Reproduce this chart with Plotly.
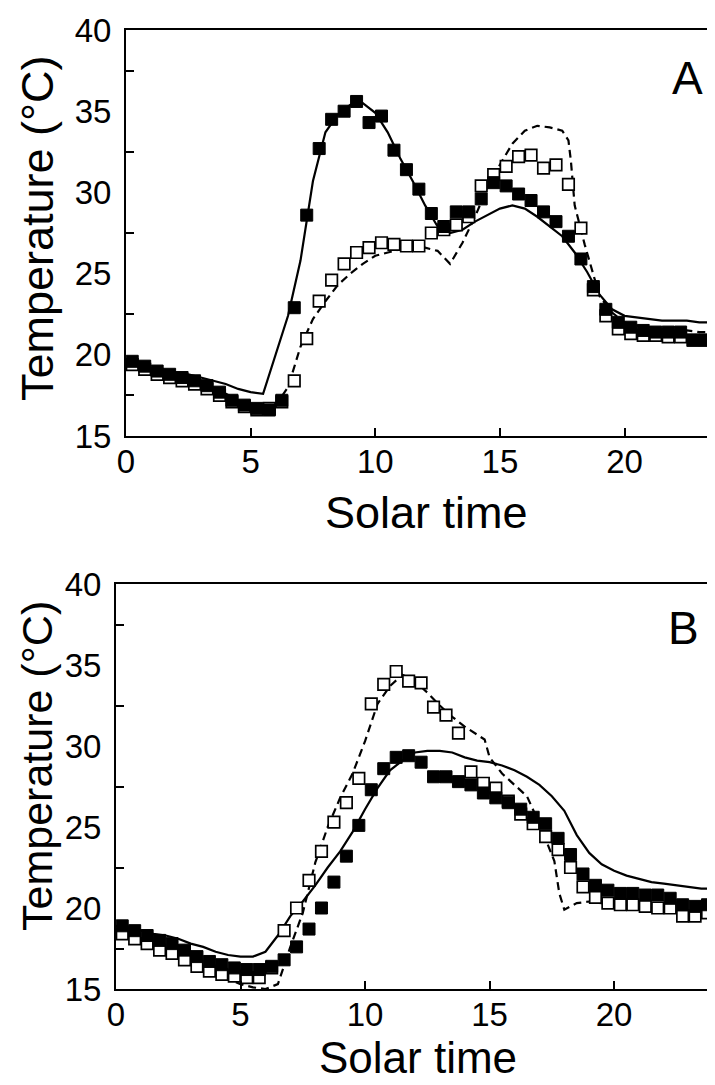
import plotly.graph_objects as go

# ---------------- data ----------------
hours = [0.25, 0.75, 1.25, 1.75, 2.25, 2.75, 3.25, 3.75, 4.25, 4.75, 5.25, 5.75,
         6.25, 6.75, 7.25, 7.75, 8.25, 8.75, 9.25, 9.75, 10.25, 10.75, 11.25, 11.75,
         12.25, 12.75, 13.25, 13.75, 14.25, 14.75, 15.25, 15.75, 16.25, 16.75, 17.25, 17.75,
         18.25, 18.75, 19.25, 19.75, 20.25, 20.75, 21.25, 21.75, 22.25, 22.75, 23.25, 23.75]

# Panel A
a_filled = [19.6, 19.3, 19.0, 18.8, 18.6, 18.4, 18.1, 17.7, 17.2, 16.9, 16.7, 16.6,
            17.2, 22.9, 28.6, 32.7, 34.5, 35.0, 35.6, 34.3, 34.7, 32.6, 31.4, 30.2,
            28.7, 27.9, 28.8, 28.8, 29.6, 30.6, 30.4, 29.9, 29.5, 28.8, 28.2, 27.3,
            25.9, 24.2, 22.8, 22.0, 21.7, 21.5, 21.4, 21.4, 21.4, 20.9, 20.9, 21.1]
a_open = [19.4, 19.1, 18.8, 18.6, 18.4, 18.2, 17.9, 17.5, 17.1, 16.8, 16.6, 16.7,
          17.1, 18.4, 21.0, 23.3, 24.6, 25.6, 26.3, 26.6, 26.9, 26.8, 26.7, 26.7,
          27.5, 27.7, 28.0, 28.5, 30.4, 31.1, 31.6, 32.2, 32.3, 31.5, 31.7, 30.5,
          27.8, 24.0, 22.4, 21.6, 21.3, 21.2, 21.2, 21.1, 21.1, 20.9, 20.9, 21.0]

a_solid_x = [0, 0.5, 1, 1.5, 2, 2.5, 3, 3.5, 4, 4.5, 5, 5.5, 6, 6.5, 7, 7.5, 8, 8.5, 9, 9.5,
             10, 10.5, 11, 11.5, 12, 12.5, 13, 13.5, 14, 14.5, 15, 15.5, 16, 16.5, 17, 17.5,
             18, 18.5, 19, 19.5, 20, 20.5, 21, 21.5, 22, 22.5, 23, 23.5, 23.75]
a_solid_y = [19.6, 19.4, 19.2, 19.0, 18.9, 18.8, 18.6, 18.4, 18.2, 17.9, 17.7, 17.6, 20.0, 22.4,
             25.8, 30.7, 33.7, 34.8, 35.4, 35.5, 34.9, 33.7, 32.1, 30.7, 29.2, 27.9, 27.5, 27.7,
             28.2, 28.6, 29.0, 29.2, 29.0, 28.5, 27.9, 27.3, 26.3, 25.1, 23.7, 22.8, 22.4, 22.3,
             22.2, 22.1, 22.1, 22.1, 22.0, 22.0, 22.0]

a_dash_x = [0, 0.5, 1, 1.5, 2, 2.5, 3, 3.5, 4, 4.5, 5, 5.5, 6, 6.5, 7, 7.5, 8, 8.5, 9, 9.5,
            10, 10.5, 11, 11.5, 12, 12.5, 13, 13.5, 14, 14.5, 15, 15.5, 16, 16.5, 17, 17.5,
            17.75, 17.85, 18, 18.4, 18.7, 19, 19.5, 20, 20.5, 21, 21.5, 22, 22.5, 23, 23.5, 23.75]
a_dash_y = [19.4, 19.2, 19.0, 18.8, 18.7, 18.5, 18.3, 18.0, 17.6, 17.2, 16.9, 16.7, 16.9, 18.0,
            20.5, 22.2, 23.3, 24.3, 25.0, 25.6, 26.1, 26.3, 26.5, 26.6, 26.6, 26.4, 25.6, 26.9,
            28.5, 30.3, 31.7, 33.0, 33.8, 34.1, 34.0, 33.8, 33.2, 31.9, 29.2, 26.8, 25.2, 23.6,
            22.6, 22.0, 21.8, 21.7, 21.6, 21.5, 21.5, 21.4, 21.4, 21.4]

# Panel B
b_filled = [18.9, 18.6, 18.3, 18.0, 17.8, 17.4, 17.0, 16.7, 16.5, 16.3, 16.2, 16.2,
            16.4, 16.8, 17.6, 18.7, 20.0, 21.6, 23.2, 25.1, 27.3, 28.6, 29.3, 29.4,
            29.0, 28.1, 28.1, 27.8, 27.6, 27.1, 26.8, 26.5, 26.1, 25.6, 25.2, 24.3,
            23.3, 22.1, 21.4, 21.1, 20.9, 20.9, 20.8, 20.8, 20.6, 20.2, 20.1, 20.2]
b_open = [18.4, 18.1, 17.8, 17.4, 17.2, 16.8, 16.4, 16.1, 15.9, 15.8, 15.7, 15.7,
          16.3, 18.6, 20.0, 21.7, 23.5, 25.3, 26.5, 28.0, 32.6, 33.8, 34.6, 34.0,
          33.9, 32.4, 31.9, 30.8, 28.4, 27.7, 27.4, 26.6, 25.8, 25.2, 24.4, 23.6,
          22.5, 21.3, 20.65, 20.3, 20.2, 20.2, 20.1, 20.0, 20.0, 19.5, 19.5, 19.7]

b_solid_x = [0, 0.5, 1, 1.5, 2, 2.5, 3, 3.5, 4, 4.5, 5, 5.5, 6, 6.5, 7, 7.5, 8, 8.5, 9, 9.5,
             10, 10.5, 11, 11.5, 12, 12.5, 13, 13.5, 14, 14.5, 15, 15.5, 16, 16.5, 17, 17.5,
             18, 18.5, 19, 19.5, 20, 20.5, 21, 21.5, 22, 22.5, 23, 23.5, 23.75]
b_solid_y = [18.9, 18.8, 18.6, 18.4, 18.3, 18.1, 17.8, 17.6, 17.3, 17.1, 17.0, 17.0, 17.3, 18.3,
             19.5, 20.4, 21.4, 22.5, 23.5, 24.7, 26.1, 27.4, 28.5, 29.1, 29.6, 29.7, 29.7, 29.6,
             29.3, 29.1, 29.0, 28.8, 28.5, 28.1, 27.6, 26.9, 26.0, 24.5, 23.4, 22.7, 22.3, 22.0,
             21.8, 21.6, 21.5, 21.4, 21.3, 21.2, 21.2]

b_dash_x = [0, 0.5, 1, 1.5, 2, 2.5, 3, 3.5, 4, 4.5, 5, 5.5, 6, 6.5, 7, 7.5, 8, 8.5, 9, 9.5,
            10, 10.5, 11, 11.5, 12, 12.5, 13, 13.5, 14, 14.5, 14.8, 15, 15.5, 16, 16.5, 17,
            17.35, 17.6, 17.8, 18, 18.5, 19, 19.5, 20, 20.5, 21, 21.5, 22, 22.5, 23, 23.5, 23.75]
b_dash_y = [18.5, 18.2, 17.9, 17.6, 17.3, 17.0, 16.6, 16.2, 15.9, 15.6, 15.3, 15.1, 15.0, 15.3,
            17.6, 19.7, 22.8, 25.0, 26.8, 28.3, 30.3, 32.6, 33.7, 34.4, 34.0, 33.3, 32.5, 31.8,
            31.2, 30.7, 30.4, 29.3, 28.3, 27.6, 26.9, 25.2, 23.8, 22.9, 20.9, 19.9, 20.3, 20.4,
            20.3, 20.2, 20.2, 20.1, 20.0, 19.9, 19.8, 19.7, 19.7, 19.7]

x_ticks = [0, 5, 10, 15, 20]
y_ticks = [15, 20, 25, 30, 35, 40]
x_title = "Solar time"
y_title = "Temperature (°C)"
panel_labels = ["A", "B"]

# ---------------- figure ----------------
W, H = 715, 1085
FONT = "Liberation Sans, Arial, Helvetica, sans-serif"

fig = go.Figure()

def add_panel(xa, ya, sx, sy, dx, dy, opn, fil):
    fig.add_trace(go.Scatter(x=sx, y=sy, mode="lines", xaxis=xa, yaxis=ya,
                             line=dict(color="black", width=2.2), showlegend=False))
    fig.add_trace(go.Scatter(x=dx, y=dy, mode="lines", xaxis=xa, yaxis=ya,
                             line=dict(color="black", width=2.2, dash="8px,5px"), showlegend=False))
    fig.add_trace(go.Scatter(x=hours, y=opn, mode="markers", xaxis=xa, yaxis=ya,
                             marker=dict(symbol="square", size=11.5, color="white",
                                         line=dict(color="black", width=1.7)),
                             showlegend=False))
    fig.add_trace(go.Scatter(x=hours, y=fil, mode="markers", xaxis=xa, yaxis=ya,
                             marker=dict(symbol="square", size=12, color="black",
                                         line=dict(color="black", width=1)),
                             showlegend=False))

add_panel("x", "y", a_solid_x, a_solid_y, a_dash_x, a_dash_y, a_open, a_filled)
add_panel("x2", "y2", b_solid_x, b_solid_y, b_dash_x, b_dash_y, b_open, b_filled)

tickfont = dict(family=FONT, size=33, color="black")

def xaxis(domain, rng, anchor):
    return dict(domain=domain, range=rng, anchor=anchor, tickvals=x_ticks,
                ticks="inside", ticklen=8, tickwidth=2, tickcolor="black",
                showline=True, linecolor="black", linewidth=2, mirror=True,
                showgrid=False, zeroline=False, tickfont=tickfont,
                ticklabelstandoff=-5, automargin=False)

def yaxis(domain, anchor, mirror):
    return dict(domain=domain, range=[15, 40], anchor=anchor, tickvals=y_ticks,
                ticks="", showline=True, linecolor="black", linewidth=2, mirror=mirror,
                showgrid=False, zeroline=False, tickfont=tickfont,
                ticklabelstandoff=6, automargin=False,
                minor=dict(tick0=2.5, dtick=5, ticks="inside", ticklen=8,
                           tickwidth=2, tickcolor="black", showgrid=False))

fig.update_layout(
    width=W, height=H,
    margin=dict(l=0, r=0, t=0, b=0),
    paper_bgcolor="white", plot_bgcolor="white",
    font=dict(family=FONT, color="black"),
    xaxis=xaxis([118 / W, 1.0], [0, 23.95], "y"),
    yaxis=yaxis([1 - 428 / H, 1 - 22 / H], "x", False),
    xaxis2=xaxis([108 / W, 707 / W], [0, 24.05], "y2"),
    yaxis2=yaxis([1 - 981 / H, 1 - 576 / H], "x2", True),
)

ann = []
for (yc, fs) in [(220, 45), (758, 43)]:
    ann.append(dict(text=y_title, x=29 / W, y=1 - yc / H, xref="paper", yref="paper",
                    textangle=-90, showarrow=False, xanchor="center", yanchor="middle",
                    font=dict(family=FONT, size=fs, color="black")))
for (xc, yc, fs) in [(418, 504, 45), (410, 1049, 44)]:
    ann.append(dict(text=x_title, x=xc / W, y=1 - yc / H, xref="paper", yref="paper",
                    showarrow=False, xanchor="center", yanchor="middle",
                    font=dict(family=FONT, size=fs, color="black")))
for lab, (xc, yc) in zip(panel_labels, [(679, 70), (675, 620)]):
    ann.append(dict(text=lab, x=xc / W, y=1 - yc / H, xref="paper", yref="paper",
                    showarrow=False, xanchor="center", yanchor="middle",
                    font=dict(family=FONT, size=46, color="black")))
fig.update_layout(annotations=ann)

fig.write_html("out.html")
